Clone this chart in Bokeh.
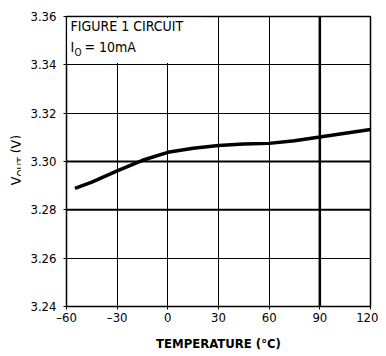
from bokeh.plotting import figure
from bokeh.models import Range1d, FixedTicker, Span, Label, Div
from bokeh.layouts import row
from bokeh.embed import file_html
from bokeh.resources import INLINE

# data
temp_c = [-55, -45, -30, -15, 0, 15, 30, 45, 60, 75, 90, 105, 120]
vout_v = [3.2889, 3.2915, 3.2961, 3.3005, 3.3038, 3.3055, 3.3066, 3.3072, 3.3075,
          3.3086, 3.3101, 3.3117, 3.3132]
x_ticks = [-60, -30, 0, 30, 60, 90, 120]
x_tick_labels = ["\u201360", "\u201330", "0", "30", "60", "90", "120"]
y_ticks = [3.24, 3.26, 3.28, 3.30, 3.32, 3.34, 3.36]
thick_y = [3.28, 3.30]
thick_x = [90]
note_title = "FIGURE 1 CIRCUIT"
note_cond = ["I", "O", "= 10mA"]
y_title = ["V", "OUT", "(V)"]

FONT = "DejaVu Sans Condensed"

p = figure(width=358, height=353, output_backend="svg", toolbar_location=None,
           x_range=Range1d(-60, 120), y_range=Range1d(3.24, 3.36),
           min_border_left=46, min_border_right=8, min_border_top=16, min_border_bottom=44)

p.background_fill_color = "white"
p.outline_line_color = "black"
p.outline_line_width = 1.5

for ax in (p.xaxis[0], p.yaxis[0]):
    ax.axis_line_color = None
    ax.major_tick_line_color = "black"
    ax.major_tick_out = 3
    ax.major_tick_in = 0
    ax.minor_tick_line_color = None
    ax.major_label_text_font = FONT
    ax.major_label_text_font_size = "13px"
    ax.major_label_text_color = "black"
    ax.axis_label_text_font = FONT
    ax.axis_label_text_font_size = "13px"
    ax.axis_label_text_color = "black"

p.xaxis.ticker = FixedTicker(ticks=x_ticks)
p.xaxis.major_label_overrides = {t: l for t, l in zip(x_ticks, x_tick_labels)}
p.xaxis.axis_label = "TEMPERATURE (\u00b0C)"
p.xaxis.axis_label_text_font_style = "bold"
p.xaxis.axis_label_standoff = 8
p.xaxis.major_label_standoff = 0

p.yaxis.ticker = FixedTicker(ticks=y_ticks)
p.yaxis.major_label_overrides = {t: f"{t:.2f}" for t in y_ticks}
p.yaxis.major_label_standoff = 7

p.xgrid.ticker = FixedTicker(ticks=x_ticks)
p.ygrid.ticker = FixedTicker(ticks=y_ticks)
p.xgrid.grid_line_color = "black"
p.ygrid.grid_line_color = "black"
p.xgrid.grid_line_width = 1
p.ygrid.grid_line_width = 1

for yv in thick_y:
    p.add_layout(Span(location=yv, dimension="width", line_color="black", line_width=2))
for xv in thick_x:
    p.add_layout(Span(location=xv, dimension="height", line_color="black", line_width=2.5))

# note box masking the grid in the top-left cell
p.quad(left=[-59.5], right=[22], bottom=[3.3408], top=[3.3595], fill_color="white", line_color=None)
p.add_layout(Label(x=-60, y=3.36, x_offset=4, y_offset=-17,
                   text=note_title, text_font=FONT, text_font_size="14px", text_color="black"))
p.add_layout(Label(x=-60, y=3.36, x_offset=4, y_offset=-38, text=note_cond[0],
                   text_font=FONT, text_font_size="14px", text_color="black"))
p.add_layout(Label(x=-60, y=3.36, x_offset=8, y_offset=-41, text=note_cond[1],
                   text_font=FONT, text_font_size="10px", text_color="black"))
p.add_layout(Label(x=-60, y=3.36, x_offset=18, y_offset=-38, text=note_cond[2],
                   text_font=FONT, text_font_size="14px", text_color="black"))

p.line(temp_c, vout_v, line_color="black", line_width=3.5)

# rotated y-axis title with a subscript, as real HTML text
ytitle_html = (
    '<div style="position:absolute; left:18px; top:160px; '
    'transform:translate(-50%,-50%) rotate(-90deg); white-space:nowrap; '
    "font-family:'DejaVu Sans Condensed'; font-size:14px; color:black; line-height:1;\">"
    f'{y_title[0]}<sub style="font-size:10px">{y_title[1]}</sub> {y_title[2]}</div>'
)
ylab = Div(text=ytitle_html, width=20, height=353, margin=0)

layout = row(ylab, p, spacing=0)
open("out.html", "w").write(file_html(layout, INLINE))
